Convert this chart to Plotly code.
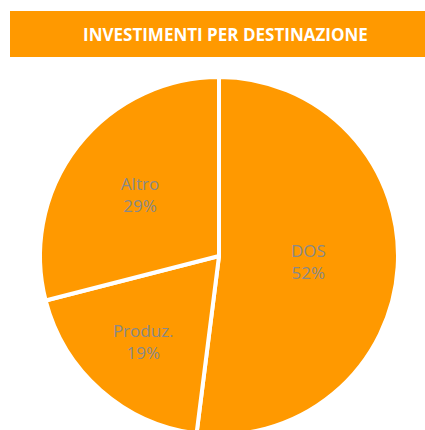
import plotly.graph_objects as go

# 数据
labels = ["DOS", "Produz.", "Altro"]
values = [52, 19, 29]
title_text = "INVESTIMENTI PER DESTINAZIONE"

ORANGE = "#FF9900"
W, H = 425, 440

fig = go.Figure(go.Pie(
    labels=labels, values=values,
    sort=False, direction="clockwise", rotation=0,
    marker=dict(colors=[ORANGE] * len(values), line=dict(color="white", width=4)),
    textinfo="label+percent", texttemplate="%{label}<br>%{percent:.0%}",
    textposition="inside", insidetextorientation="horizontal",
    textfont=dict(family="Open Sans", size=17, color="#898989"),
    domain=dict(x=[0.0941, 0.9365], y=[0.0114, 0.825]),
    showlegend=False, hoverinfo="label+percent",
))

# 标题条
fig.add_shape(type="rect", xref="paper", yref="paper",
              x0=10 / W, x1=1, y0=1 - 57 / H, y1=1 - 11 / H,
              fillcolor=ORANGE, line_width=0, layer="below")
fig.add_annotation(text="<b>" + title_text + "</b>", xref="paper", yref="paper",
                   x=225 / W, y=1 - 34 / H, xanchor="center", yanchor="middle",
                   showarrow=False,
                   font=dict(family="Open Sans", size=17, color="white"))

fig.update_layout(
    width=W, height=H,
    margin=dict(l=0, r=0, t=0, b=0),
    paper_bgcolor="white", plot_bgcolor="white",
)

fig.write_html(
    "out.html",
    config={"displayModeBar": False},
    post_script="document.body.style.margin='0';"
                "document.body.style.overflow='hidden';"
                "document.documentElement.style.overflow='hidden';",
)
